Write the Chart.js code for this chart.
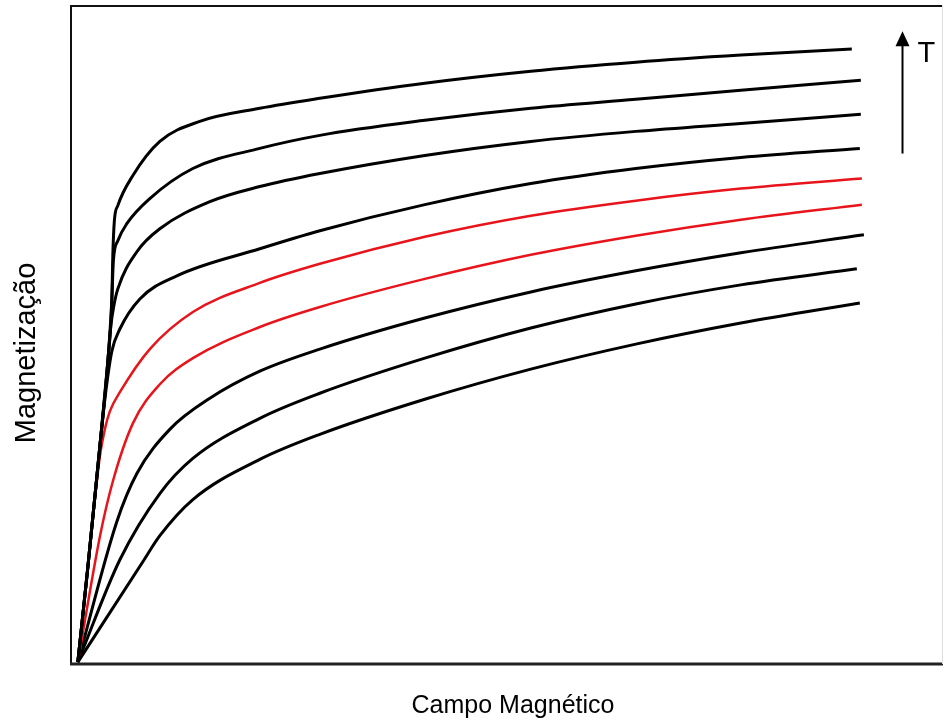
<!DOCTYPE html>
<html>
<head>
<meta charset="utf-8">
<script src="https://cdn.jsdelivr.net/npm/chart.js@4"></script>
<style>
  html, body { margin: 0; padding: 0; background: #fff; }
  #wrap { width: 944px; height: 722px; position: relative; }
</style>
</head>
<body>
<div id="wrap"><canvas id="magChart"></canvas></div>
<script>
// magnetization curves as [field, magnetization]
// top curve = lowest temperature, bottom curve = highest
const curve1 = [[0,0],[1.28,15.27],[2.81,34.57],[3.83,48.23],[4.34,58.2],[4.46,65.11],[4.66,70.74],[5.1,73.15],[7.02,77.97],[10.46,83.44],[15.56,86.66],[23.21,88.75],[30.87,90.35],[44.26,92.77],[57.78,94.69],[71.17,96.14],[84.57,97.27],[98.72,98.23]];
const curve2 = [[0,0],[1.28,15.27],[2.81,34.57],[3.83,48.23],[4.34,58.2],[4.53,64.31],[5.1,67.52],[6.25,70.26],[9.18,74.28],[14.67,79.1],[23.21,82.32],[30.87,84.41],[44.26,86.82],[57.78,88.75],[71.17,90.19],[84.57,91.64],[99.87,93.25]];
const curve3 = [[0,0],[1.28,15.27],[2.81,34.57],[3.83,48.23],[4.21,53.86],[4.59,57.07],[5.1,59.81],[7.53,65.76],[10.46,69.45],[16.84,73.79],[23.21,76.21],[30.87,78.3],[44.26,81.19],[57.78,83.44],[71.17,85.05],[84.57,86.33],[99.87,87.78]];
const curve4 = [[0,0],[1.28,15.27],[2.81,34.57],[3.57,43.41],[4.34,49.84],[5.36,53.38],[7.91,58.2],[12.63,61.9],[23.21,66.24],[30.87,69.13],[44.26,73.31],[57.78,76.69],[71.17,79.1],[84.57,80.87],[99.74,82.32]];
const curve5 = [[0,0],[1.28,15.27],[2.81,32.96],[3.44,37.3],[4.08,40.19],[5.36,43.25],[9.18,50.16],[14.67,56.11],[23.21,60.77],[30.87,63.83],[44.26,68.17],[57.78,71.54],[71.17,73.95],[84.57,75.88],[100,77.49]];
const curve6 = [[0,0],[2.81,20.1],[4.46,28.94],[7.02,38.26],[10.46,44.53],[14.67,48.71],[23.21,53.7],[30.87,56.91],[44.26,61.41],[57.78,65.27],[71.17,68.33],[84.57,70.9],[100,73.31]];
const curve7 = [[0,0],[4.97,22.51],[7.53,30.23],[11.73,37.3],[16.84,42.28],[23.21,46.62],[30.87,50.16],[44.26,55.14],[57.78,59.32],[71.17,62.7],[84.57,65.59],[100.26,68.49]];
const curve8 = [[0,0],[5.36,16.4],[10.46,27.01],[14.67,32.64],[23.21,39.07],[30.87,43.09],[44.26,48.71],[57.78,53.54],[71.17,57.4],[84.57,60.45],[99.36,63.02]];
const curve9 = [[0,0],[8.29,16.08],[10.46,20.26],[14.67,26.05],[23.21,32.48],[30.87,36.5],[44.26,42.12],[57.78,46.95],[71.17,50.96],[84.57,54.34],[99.74,57.56]];

const curves = [curve1, curve2, curve3, curve4, curve5, curve6, curve7, curve8, curve9];
const curveColors = ["#000", "#000", "#000", "#000", "#e8141b", "#e8141b", "#000", "#000", "#000"];

const xTitle = "Campo Magnético";
const yTitle = "Magnetização";
const arrowLabel = "T";
// temperature arrow, in data units
const arrowField = 105.1;
const arrowFrom = 81.5;
const arrowTo = 101.1;

const decorations = {
  id: "decorations",
  afterDraw(chart) {
    const ctx = chart.ctx;
    const a = chart.chartArea;
    const xs = chart.scales.x, ys = chart.scales.y;
    ctx.save();

    // frame
    ctx.strokeStyle = "#111";
    ctx.lineWidth = 2;
    ctx.beginPath();
    ctx.moveTo(a.left + 1, a.top + 1);
    ctx.lineTo(a.right, a.top + 1);
    ctx.stroke();
    ctx.beginPath();
    ctx.moveTo(a.left + 1, a.top);
    ctx.lineTo(a.left + 1, a.bottom);
    ctx.stroke();
    ctx.lineWidth = 3;
    ctx.strokeStyle = "#222";
    ctx.beginPath();
    ctx.moveTo(a.left, a.bottom);
    ctx.lineTo(a.right, a.bottom);
    ctx.stroke();
    ctx.lineWidth = 1;
    ctx.strokeStyle = "#ddd";
    ctx.beginPath();
    ctx.moveTo(a.right - 0.5, a.top);
    ctx.lineTo(a.right - 0.5, a.bottom);
    ctx.stroke();

    // axis titles
    ctx.fillStyle = "#000";
    ctx.textAlign = "center";
    ctx.textBaseline = "alphabetic";
    ctx.font = "25px 'Liberation Sans', Arial, sans-serif";
    ctx.fillText(xTitle, 513, 713);
    ctx.save();
    ctx.translate(35, 353);
    ctx.rotate(-Math.PI / 2);
    ctx.font = "29px 'Liberation Sans', Arial, sans-serif";
    ctx.fillText(yTitle, 0, 0);
    ctx.restore();

    // temperature arrow
    const ax = Math.round(xs.getPixelForValue(arrowField)) + 0.5;
    const y0 = ys.getPixelForValue(arrowFrom);
    const y1 = ys.getPixelForValue(arrowTo);
    ctx.strokeStyle = "#000";
    ctx.lineWidth = 2;
    ctx.beginPath();
    ctx.moveTo(ax, y0);
    ctx.lineTo(ax, y1 + 12);
    ctx.stroke();
    ctx.beginPath();
    ctx.moveTo(ax, y1);
    ctx.lineTo(ax - 7, y1 + 15);
    ctx.lineTo(ax + 7, y1 + 15);
    ctx.closePath();
    ctx.fill();
    ctx.font = "29px 'Liberation Sans', Arial, sans-serif";
    ctx.textAlign = "left";
    ctx.fillText(arrowLabel, ax + 15, y1 + 31);

    ctx.restore();
  }
};

new Chart(document.getElementById("magChart"), {
  type: "line",
  data: {
    datasets: curves.map((c, i) => ({
      data: c.map(p => ({ x: p[0], y: p[1] })),
      borderColor: curveColors[i],
      borderWidth: curveColors[i] === "#000" ? 3 : 2.5,
      pointRadius: 0,
      fill: false,
      cubicInterpolationMode: "monotone"
    }))
  },
  options: {
    responsive: true,
    maintainAspectRatio: false,
    animation: false,
    layout: { padding: { left: 70, right: 1, top: 5, bottom: 58 } },
    plugins: { legend: { display: false }, tooltip: { enabled: false } },
    scales: {
      x: { type: "linear", min: -1, max: 110.35, display: false },
      y: { type: "linear", min: -0.3, max: 105.3, display: false }
    }
  },
  plugins: [decorations]
});
</script>
</body>
</html>
